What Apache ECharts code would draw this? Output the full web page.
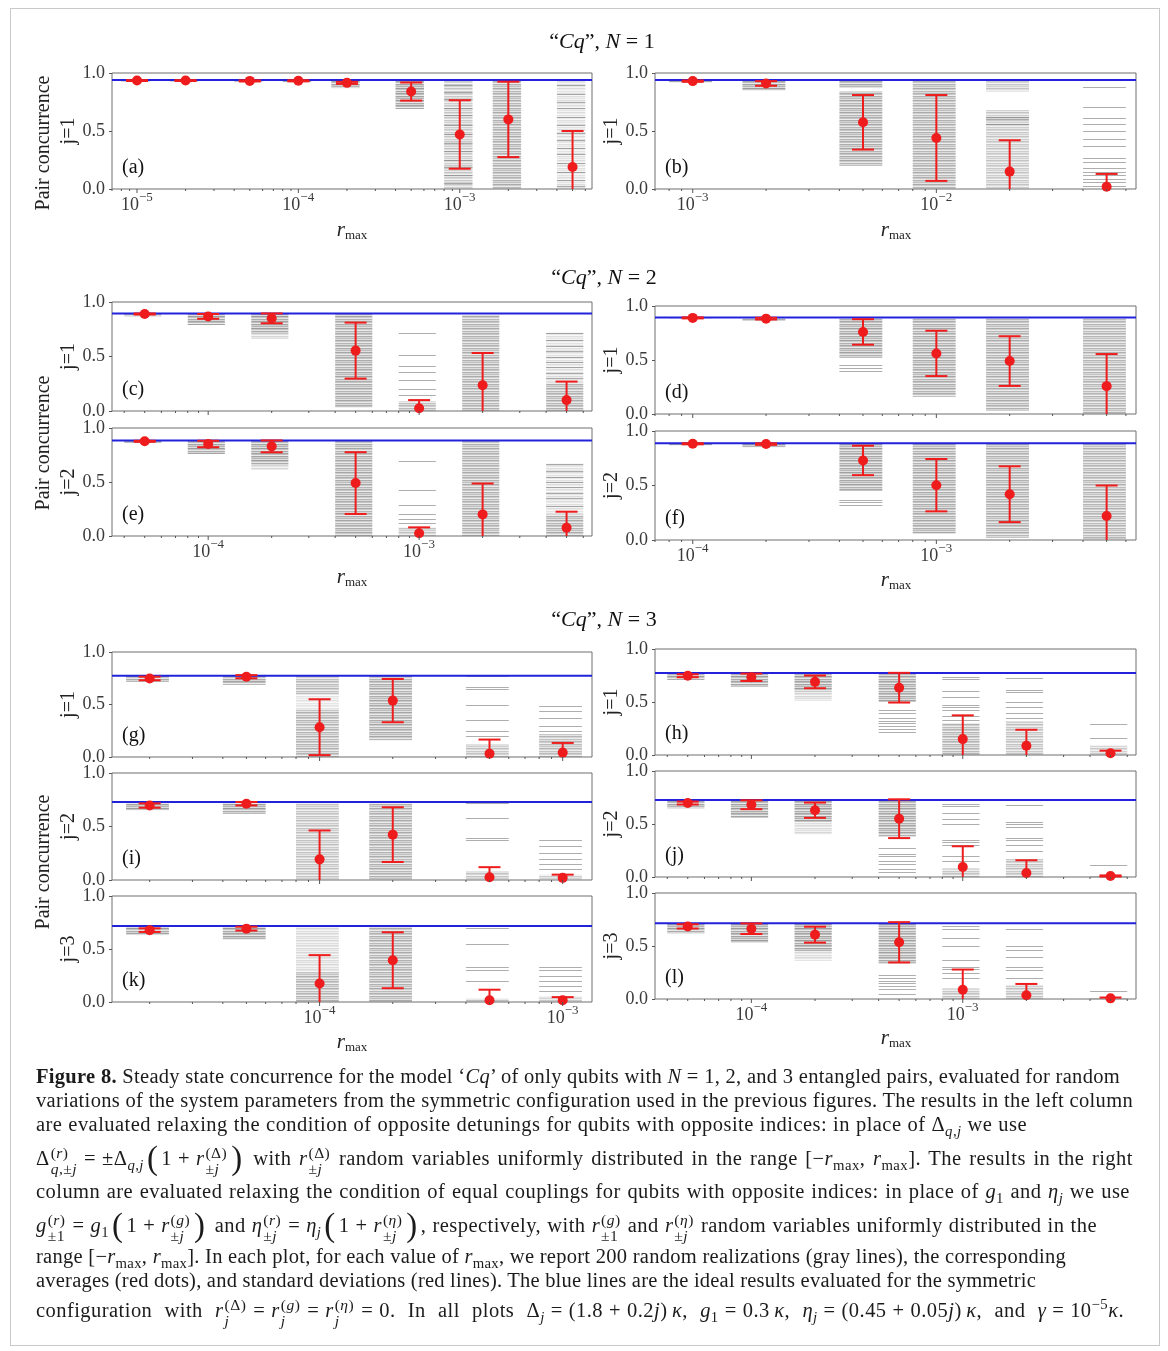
<!DOCTYPE html>
<html>
<head>
<meta charset="utf-8">
<script src="https://cdn.jsdelivr.net/npm/echarts@6/dist/echarts.min.js"></script>
<style>
html,body{margin:0;padding:0;background:#fff;}
#chart{position:absolute;left:0;top:0;width:1168px;height:1351px;}
#frame{position:absolute;left:10px;top:8px;width:1150px;height:1338px;border:1px solid #c9c9c9;box-sizing:border-box;pointer-events:none;}
#cap{position:absolute;left:36px;top:0;width:1110px;font-family:"Liberation Serif","DejaVu Serif",serif;font-size:20.5px;color:#1b1b1b;}
#cap .ln{position:absolute;left:0;white-space:nowrap;line-height:24px;}
#cap sub,#cap sup{font-size:0.72em;line-height:0;}
#cap .ss{display:inline-block;vertical-align:middle;font-size:0.76em;line-height:1.0;text-align:left;margin-left:1px;margin-right:1px;}
#cap .ss span{display:block;}
#cap .bp{display:inline-block;font-size:1.6em;line-height:0;vertical-align:-0.1em;margin:0 3px;}
#cap .op{display:inline-block;margin:0 6px;}
</style>
</head>
<body>
<div id="chart"></div>
<div id="frame"></div>
<div id="cap">
<div class="ln" data-w="1084" style="top:1064px"><b>Figure 8.</b> Steady state concurrence for the model ‘<i>Cq</i>’ of only qubits with <i>N</i> = 1, 2, and 3 entangled pairs, evaluated for random</div>
<div class="ln" data-w="1097" style="top:1088px">variations of the system parameters from the symmetric configuration used in the previous figures. The results in the left column</div>
<div class="ln" data-w="991" style="top:1112px">are evaluated relaxing the condition of opposite detunings for qubits with opposite indices: in place of Δ<sub><i>q</i>,<i>j</i></sub> we use</div>
<div class="ln" data-w="1097" style="top:1145px">Δ<span class="ss"><span>(<i>r</i>)</span><span><i>q</i>,±<i>j</i></span></span><span class="op">=</span>±Δ<sub><i>q</i>,<i>j</i></sub><span class="bp">(</span>1<span class="op">+</span><i>r</i><span class="ss"><span>(Δ)</span><span>±<i>j</i></span></span><span class="bp">)</span> with <i>r</i><span class="ss"><span>(Δ)</span><span>±<i>j</i></span></span> random variables uniformly distributed in the range [−<i>r</i><sub>max</sub>, <i>r</i><sub>max</sub>]. The results in the right</div>
<div class="ln" data-w="1094" style="top:1179px">column are evaluated relaxing the condition of equal couplings for qubits with opposite indices: in place of <i>g</i><sub>1</sub> and <i>η<sub>j</sub></i> we use</div>
<div class="ln" data-w="1061" style="top:1212px"><i>g</i><span class="ss"><span>(<i>r</i>)</span><span>±1</span></span><span class="op">=</span><i>g</i><sub>1</sub><span class="bp">(</span>1<span class="op">+</span><i>r</i><span class="ss"><span>(<i>g</i>)</span><span>±<i>j</i></span></span><span class="bp">)</span> and <i>η</i><span class="ss"><span>(<i>r</i>)</span><span>±<i>j</i></span></span><span class="op">=</span><i>η<sub>j</sub></i><span class="bp">(</span>1<span class="op">+</span><i>r</i><span class="ss"><span>(<i>η</i>)</span><span>±<i>j</i></span></span><span class="bp">)</span>, respectively, with <i>r</i><span class="ss"><span>(<i>g</i>)</span><span>±1</span></span> and <i>r</i><span class="ss"><span>(<i>η</i>)</span><span>±<i>j</i></span></span> random variables uniformly distributed in the</div>
<div class="ln" data-w="1030" style="top:1244px">range [−<i>r</i><sub>max</sub>, <i>r</i><sub>max</sub>]. In each plot, for each value of <i>r</i><sub>max</sub>, we report 200 random realizations (gray lines), the corresponding</div>
<div class="ln" data-w="1000" style="top:1268px">averages (red dots), and standard deviations (red lines). The blue lines are the ideal results evaluated for the symmetric</div>
<div class="ln" data-w="1088" style="top:1297px">configuration with <i>r</i><span class="ss"><span>(Δ)</span><span><i>j</i></span></span><span class="op">=</span><i>r</i><span class="ss"><span>(<i>g</i>)</span><span><i>j</i></span></span><span class="op">=</span><i>r</i><span class="ss"><span>(<i>η</i>)</span><span><i>j</i></span></span><span class="op">=</span>0. In all plots Δ<sub><i>j</i></sub><span class="op">=</span>(1.8<span class="op">+</span>0.2<i>j</i>)&#8201;<i>κ</i>, <i>g</i><sub>1</sub><span class="op">=</span>0.3&#8201;<i>κ</i>, <i>η<sub>j</sub></i><span class="op">=</span>(0.45<span class="op">+</span>0.05<i>j</i>)&#8201;<i>κ</i>, and <i>γ</i><span class="op">=</span>10<sup>−5</sup><i>κ</i>.</div>
</div>
<script>
// ---------------- DATA ----------------
// Bands: [low, high, density] ranges covered by the gray realization lines; lines: individual visible gray lines
// (a) N=1, left
const rA = [1e-5, 2e-5, 5e-5, 1e-4, 2e-4, 5e-4, 1e-3, 2e-3, 5e-3];
const meanA = [0.935, 0.935, 0.932, 0.933, 0.915, 0.84, 0.47, 0.60, 0.19];
const stdA = [0.004, 0.004, 0.005, 0.005, 0.009, 0.078, 0.295, 0.325, 0.31];
const idealA = 0.94;
const bandsA = [[[0.928,0.94,1]],[[0.928,0.94,1]],[[0.925,0.94,1]],[[0.922,0.94,1]],[[0.87,0.94,1]],[[0.69,0.94,1]],[[0,0.94,0.6]],[[0,0.94,0.85]],[[0,0.94,0.35]]];
const linesA = [[],[],[],[],[],[],[0.9,0.84,0.78,0.7,0.64,0.55,0.47,0.4,0.33,0.25,0.19,0.12,0.05],[],[0.9,0.82,0.75,0.7,0.62,0.55,0.48,0.42,0.35,0.3,0.22,0.15,0.08,0.03]];
// (b) N=1, right
const rB = [1e-3, 2e-3, 5e-3, 1e-2, 2e-2, 5e-2];
const meanB = [0.93, 0.91, 0.575, 0.44, 0.15, 0.02];
const stdB = [0.006, 0.02, 0.235, 0.37, 0.27, 0.11];
const idealB = 0.94;
const bandsB = [[[0.92,0.94,1]],[[0.85,0.94,1]],[[0.2,0.84,0.9],[0.87,0.94,0.95]],[[0,0.94,0.85]],[[0.84,0.94,0.6],[0,0.68,0.6]],[]];
const linesB = [[],[],[],[],[0.62,0.6,0.56],[0.88,0.71,0.61,0.56,0.5,0.43,0.37,0.27,0.23,0.18,0.15,0.12,0.09,0.06,0.03]];
// (c) N=2, j=1, left
const rC = [5e-5, 1e-4, 2e-4, 5e-4, 1e-3, 2e-3, 5e-3];
const meanC = [0.89, 0.868, 0.85, 0.554, 0.025, 0.237, 0.10];
const stdC = [0.005, 0.022, 0.045, 0.257, 0.075, 0.295, 0.17];
const idealC = 0.895;
const bandsC = [[[0.87,0.895,1]],[[0.79,0.895,1]],[[0.71,0.895,1],[0.66,0.71,0.45]],[[0.03,0.895,0.9]],[[0,0.09,0.75]],[[0,0.88,0.85]],[[0,0.26,0.85],[0.26,0.72,0.35]]];
const linesC = [[],[],[],[],[0.72,0.51,0.41,0.36,0.28,0.2,0.15],[],[0.72,0.65,0.6,0.55,0.5,0.45,0.4,0.35,0.3]];
// (e) N=2, j=2, left
const meanE = [0.877, 0.852, 0.83, 0.49, 0.025, 0.20, 0.077];
const stdE = [0.005, 0.03, 0.055, 0.286, 0.055, 0.286, 0.148];
const idealE = 0.885;
const bandsE = [[[0.86,0.885,1]],[[0.76,0.885,1]],[[0.66,0.885,1],[0.61,0.66,0.45]],[[0,0.885,0.9]],[[0,0.08,0.65]],[[0,0.88,0.85]],[[0,0.2,0.85],[0.2,0.67,0.35]]];
const linesE = [[],[],[],[],[0.69,0.43,0.29,0.2,0.16,0.12],[],[0.67,0.6,0.55,0.5,0.45,0.4,0.35,0.28]];
// (d) N=2, j=1, right
const rD = [1e-4, 2e-4, 5e-4, 1e-3, 2e-3, 5e-3];
const meanD = [0.89, 0.883, 0.76, 0.561, 0.49, 0.258];
const stdD = [0.005, 0.008, 0.118, 0.21, 0.23, 0.297];
const idealD = 0.893;
const bandsD = [[[0.88,0.893,1]],[[0.86,0.893,1]],[[0.52,0.893,0.95]],[[0.16,0.893,0.9]],[[0.03,0.893,0.85]],[[0,0.893,0.8]]];
const linesD = [[],[],[0.45,0.43,0.40],[],[],[]];
// (f) N=2, j=2, right
const meanF = [0.883, 0.88, 0.73, 0.503, 0.42, 0.22];
const stdF = [0.005, 0.007, 0.135, 0.24, 0.256, 0.28];
const idealF = 0.887;
const bandsF = [[[0.87,0.887,1]],[[0.85,0.887,1]],[[0.45,0.887,0.95]],[[0.06,0.887,0.9]],[[0.02,0.887,0.85]],[[0,0.887,0.8]]];
const linesF = [[],[],[0.37,0.35,0.32],[],[],[]];
// (g) N=3, j=1, left
const rG = [2e-5, 5e-5, 1e-4, 2e-4, 5e-4, 1e-3];
const meanG = [0.748, 0.765, 0.284, 0.537, 0.032, 0.042];
const stdG = [0.017, 0.015, 0.266, 0.206, 0.134, 0.092];
const idealG = 0.775;
const bandsG = [[[0.716,0.775,1]],[[0.687,0.775,1]],[[0.6,0.775,0.75],[0.45,0.6,0.3],[0,0.45,0.8]],[[0.16,0.775,0.9]],[[0,0.12,0.65]],[[0,0.22,0.75]]];
const linesG = [[],[],[],[],[0.77,0.67,0.65,0.5,0.35,0.25,0.2],[0.49,0.44,0.37,0.3,0.25]];
// (i) N=3, j=2, left
const meanI = [0.696, 0.713, 0.193, 0.424, 0.025, 0.02];
const stdI = [0.02, 0.016, 0.27, 0.256, 0.095, 0.03];
const idealI = 0.728;
const bandsI = [[[0.652,0.728,1]],[[0.62,0.728,1]],[[0,0.728,0.65]],[[0,0.728,0.85]],[[0,0.08,0.65]],[[0,0.05,0.55]]];
const linesI = [[],[],[],[],[0.72,0.58,0.39,0.37],[0.37,0.32,0.25,0.2,0.15,0.1]];
// (k) N=3, j=3, left
const meanK = [0.678, 0.692, 0.174, 0.394, 0.016, 0.016];
const stdK = [0.017, 0.018, 0.268, 0.264, 0.1, 0.03];
const idealK = 0.716;
const bandsK = [[[0.637,0.716,1]],[[0.59,0.716,1]],[[0.28,0.716,0.4],[0,0.28,0.8]],[[0,0.716,0.85]],[[0,0.03,0.65]],[[0,0.05,0.55]]];
const linesK = [[],[],[],[],[0.7,0.55,0.33,0.3,0.2],[0.33,0.3,0.25,0.2,0.15,0.1]];
// (h) N=3, j=1, right
const rH = [5e-5, 1e-4, 2e-4, 5e-4, 1e-3, 2e-3, 5e-3];
const meanH = [0.748, 0.733, 0.69, 0.635, 0.15, 0.088, 0.016];
const stdH = [0.014, 0.035, 0.06, 0.14, 0.224, 0.15, 0.025];
const idealH = 0.774;
const bandsH = [[[0.708,0.774,1]],[[0.645,0.774,1]],[[0.6,0.774,1],[0.513,0.6,0.45]],[[0.5,0.774,0.95]],[[0,0.3,0.8]],[[0,0.32,0.65]],[[0,0.09,0.55]]];
const linesH = [[],[],[],[0.42,0.4,0.35,0.32,0.3,0.27,0.25,0.22],[0.74,0.72,0.6,0.55,0.47,0.45,0.42,0.37,0.33],[0.73,0.61,0.59,0.5,0.45,0.4,0.35],[0.29,0.16]];
// (j) N=3, j=2, right
const meanJ = [0.698, 0.682, 0.63, 0.55, 0.094, 0.038, 0.01];
const stdJ = [0.014, 0.042, 0.072, 0.183, 0.196, 0.12, 0.005];
const idealJ = 0.726;
const bandsJ = [[[0.648,0.726,1]],[[0.557,0.726,1]],[[0.52,0.726,1],[0.4,0.52,0.4]],[[0.38,0.726,0.95]],[[0,0.08,0.65]],[[0,0.17,0.65]],[[0,0.01,0.6]]];
const linesJ = [[],[],[],[0.27,0.22,0.2,0.15,0.12,0.08,0.05],[0.69,0.67,0.6,0.55,0.5,0.35,0.33,0.3,0.2,0.15],[0.68,0.52,0.5,0.47,0.37,0.35,0.3,0.25],[0.11]];
// (l) N=3, j=3, right
const meanL = [0.685, 0.663, 0.607, 0.535, 0.088, 0.035, 0.006];
const stdL = [0.02, 0.05, 0.075, 0.19, 0.19, 0.107, 0.008];
const idealL = 0.714;
const bandsL = [[[0.62,0.714,1]],[[0.528,0.714,1]],[[0.45,0.714,1],[0.36,0.45,0.4]],[[0.33,0.714,0.95]],[[0,0.1,0.65]],[[0,0.13,0.65]],[[0,0.01,0.6]]];
const linesL = [[],[],[],[0.23,0.2,0.17,0.15,0.12,0.09,0.05],[0.69,0.66,0.58,0.5,0.37,0.3,0.28,0.25,0.2],[0.66,0.5,0.46,0.4,0.3,0.27,0.2],[0.08]];

// Axis ticks
const yTicks = [0, 0.5, 1.0];
const decades = [1e-6, 1e-5, 1e-4, 1e-3, 1e-2, 1e-1];
const minorMult = [2, 3, 4, 5, 6, 7, 8, 9];

// ---------------- LAYOUT ----------------
const FONT = '"Liberation Serif", "DejaVu Serif", serif';
const LX = 112, LW = 480, RX = 655, RW = 481;
const panels = [
  {tag:'(a)', left:LX, width:LW, top:73,  height:116, r:rA, mean:meanA, std:stdA, ideal:idealA, bands:bandsA, lines:linesA, j:'j=1', showX:true},
  {tag:'(b)', left:RX, width:RW, top:73,  height:116, r:rB, mean:meanB, std:stdB, ideal:idealB, bands:bandsB, lines:linesB, j:'j=1', showX:true},
  {tag:'(c)', left:LX, width:LW, top:302, height:109, r:rC, mean:meanC, std:stdC, ideal:idealC, bands:bandsC, lines:linesC, j:'j=1', showX:false},
  {tag:'(e)', left:LX, width:LW, top:428, height:108, r:rC, mean:meanE, std:stdE, ideal:idealE, bands:bandsE, lines:linesE, j:'j=2', showX:true},
  {tag:'(d)', left:RX, width:RW, top:306, height:108, r:rD, mean:meanD, std:stdD, ideal:idealD, bands:bandsD, lines:linesD, j:'j=1', showX:false},
  {tag:'(f)', left:RX, width:RW, top:431, height:109, r:rD, mean:meanF, std:stdF, ideal:idealF, bands:bandsF, lines:linesF, j:'j=2', showX:true},
  {tag:'(g)', left:LX, width:LW, top:652, height:105, r:rG, mean:meanG, std:stdG, ideal:idealG, bands:bandsG, lines:linesG, j:'j=1', showX:false},
  {tag:'(i)', left:LX, width:LW, top:773, height:107, r:rG, mean:meanI, std:stdI, ideal:idealI, bands:bandsI, lines:linesI, j:'j=2', showX:false},
  {tag:'(k)', left:LX, width:LW, top:896, height:106, r:rG, mean:meanK, std:stdK, ideal:idealK, bands:bandsK, lines:linesK, j:'j=3', showX:true},
  {tag:'(h)', left:RX, width:RW, top:649, height:106, r:rH, mean:meanH, std:stdH, ideal:idealH, bands:bandsH, lines:linesH, j:'j=1', showX:false},
  {tag:'(j)', left:RX, width:RW, top:771, height:106, r:rH, mean:meanJ, std:stdJ, ideal:idealJ, bands:bandsJ, lines:linesJ, j:'j=2', showX:false},
  {tag:'(l)', left:RX, width:RW, top:893, height:106, r:rH, mean:meanL, std:stdL, ideal:idealL, bands:bandsL, lines:linesL, j:'j=3', showX:true}
];

// striped fill texture for dense groups of gray lines
const patternCache = {};
const stripeRows = [0.55, 0.3, 0.45, 0.2, 0.6, 0.35, 0.15, 0.5, 0.25, 0.55, 0.4, 0.12];
function stripeFill(d) {
  const key = d.toFixed(2);
  if (patternCache[key]) return patternCache[key];
  const c = document.createElement('canvas');
  c.width = 4; c.height = stripeRows.length;
  const g = c.getContext('2d');
  stripeRows.forEach((a, y) => {
    g.fillStyle = 'rgba(128,128,128,' + Math.min(1, a * d * 1.3).toFixed(3) + ')';
    g.fillRect(0, y, 4, 1);
  });
  patternCache[key] = {type:'pattern', image:c, repeat:'repeat'};
  return patternCache[key];
}

const grids = [], xAxes = [], yAxes = [], series = [];
const graphics = [];
const RED = '#ee1c1c', BLUE = '#2222dd';

panels.forEach((P, i) => {
  const xmin = P.r[0] * 0.7, xmax = P.r[P.r.length - 1] * 1.32;
  grids.push({left:P.left, top:P.top, width:P.width, height:P.height, show:true, borderColor:'#6f6f6f', borderWidth:1, backgroundColor:'rgba(0,0,0,0)'});
  xAxes.push({type:'log', logBase:10, gridIndex:i, min:xmin, max:xmax,
    axisLine:{show:false}, axisTick:{show:false}, axisLabel:{show:false}, splitLine:{show:false}});
  yAxes.push({type:'value', gridIndex:i, min:0, max:1, interval:0.5,
    name:P.j, nameLocation:'middle', nameRotate:90, nameGap:P.left === LX ? 31 : 25,
    nameTextStyle:{fontFamily:FONT, fontSize:20, color:'#222'},
    axisLine:{show:false}, axisTick:{show:true, length:3, lineStyle:{color:'#555'}},
    axisLabel:{fontFamily:FONT, fontSize:18, color:'#3a3a3a', margin:7, formatter:v => v.toFixed(1)},
    splitLine:{show:false}});

  // gray realization lines
  series.push({type:'custom', xAxisIndex:i, yAxisIndex:i, z:2, silent:true,
    data:P.r.map((x, k) => [x, P.mean[k]]),
    renderItem:(params, api) => {
      const k = params.dataIndex, x = api.value(0);
      const xl = api.coord([x * 0.8, 0])[0], xr = api.coord([x * 1.2, 0])[0];
      const ch = [];
      P.bands[k].forEach(b => {
        const y1 = api.coord([x, b[1]])[1], y0 = api.coord([x, b[0]])[1];
        ch.push({type:'rect', shape:{x:xl, y:y1, width:xr - xl, height:Math.max(1.5, y0 - y1)},
          style:{fill:stripeFill(b[2])}});
      });
      P.lines[k].forEach(v => {
        const y = Math.round(api.coord([x, v])[1]) + 0.5;
        ch.push({type:'line', shape:{x1:xl, y1:y, x2:xr, y2:y}, style:{stroke:'rgba(120,120,120,0.6)', lineWidth:1}});
      });
      return {type:'group', children:ch};
    }});

  // ideal blue line
  series.push({type:'custom', xAxisIndex:i, yAxisIndex:i, z:3, silent:true,
    data:[[P.r[0], P.ideal]],
    renderItem:(params, api) => {
      const cs = params.coordSys;
      const y = api.coord([api.value(0), api.value(1)])[1];
      return {type:'line', shape:{x1:cs.x, y1:y, x2:cs.x + cs.width, y2:y}, style:{stroke:BLUE, lineWidth:2}};
    }});

  // red mean + std error bars
  series.push({type:'custom', xAxisIndex:i, yAxisIndex:i, z:4, silent:true,
    data:P.r.map((x, k) => [x, P.mean[k], P.std[k]]),
    encode:{x:0, y:1},
    renderItem:(params, api) => {
      const x = api.value(0), m = api.value(1), s = api.value(2);
      const lo = m - s, hi = m + s;
      const px = api.coord([x, m])[0];
      const yM = api.coord([x, m])[1];
      const yLo = api.coord([x, Math.max(0, lo)])[1];
      const yHi = api.coord([x, Math.min(1, hi)])[1];
      const ch = [{type:'line', shape:{x1:px, y1:yLo, x2:px, y2:yHi}, style:{stroke:RED, lineWidth:2}}];
      if (lo >= 0) ch.push({type:'line', shape:{x1:px - 11, y1:yLo, x2:px + 11, y2:yLo}, style:{stroke:RED, lineWidth:2}});
      if (hi <= 1) ch.push({type:'line', shape:{x1:px - 11, y1:yHi, x2:px + 11, y2:yHi}, style:{stroke:RED, lineWidth:2}});
      ch.push({type:'circle', shape:{cx:px, cy:yM, r:5}, style:{fill:RED}});
      return {type:'group', children:ch};
    }});

  // x ticks (log decades + minor) and labels
  const tickData = [];
  decades.forEach(d => {
    if (d >= xmin && d <= xmax) tickData.push([d, 0, 1]);
    minorMult.forEach(m => { const v = d * m; if (v >= xmin && v <= xmax) tickData.push([v, 0, 0]); });
  });
  series.push({type:'custom', xAxisIndex:i, yAxisIndex:i, z:5, silent:true,
    data:tickData, encode:{x:0, y:1},
    renderItem:(params, api) => {
      const cs = params.coordSys;
      const v = api.value(0), major = api.value(2) === 1;
      const px = api.coord([v, 0])[0];
      const yb = cs.y + cs.height;
      const ch = [{type:'line', shape:{x1:px, y1:yb, x2:px, y2:yb + (major ? 4 : 2)}, style:{stroke:'#555', lineWidth:1}}];
      if (major && P.showX) {
        const e = Math.round(Math.log10(v));
        ch.push({type:'text', x:px + 2, y:yb + 16, style:{text:'10', fontFamily:FONT, fontSize:18, fill:'#3a3a3a', align:'right', verticalAlign:'middle'}});
        ch.push({type:'text', x:px + 2, y:yb + 9, style:{text:'\u2212' + Math.abs(e), fontFamily:FONT, fontSize:13, fill:'#3a3a3a', align:'left', verticalAlign:'middle'}});
      }
      return {type:'group', children:ch};
    }});

  // panel tag
  graphics.push({type:'text', x:P.left + 10, y:P.top + P.height - 21,
    style:{text:P.tag, fontFamily:FONT, fontSize:20, fill:'#111', align:'left', verticalAlign:'middle'}});
});

// row titles
[[602, 42], [604, 278], [604, 620]].forEach((p, n) => {
  graphics.push({type:'text', x:p[0], y:p[1],
    style:{text:'\u201c{i|Cq}\u201d, {i|N} = ' + (n + 1), fontFamily:FONT, fontSize:22, fill:'#111', align:'center', verticalAlign:'middle',
      rich:{i:{fontStyle:'italic', fontFamily:FONT, fontSize:22, fill:'#111'}}}});
});
// Pair concurrence labels
[143, 443, 862].forEach(y => {
  graphics.push({type:'text', x:44, y:y, rotation:Math.PI / 2,
    style:{text:'Pair concurrence', fontFamily:FONT, fontSize:20, fill:'#222', align:'center', verticalAlign:'middle'}});
});
// r_max labels
[[352, 230], [896, 230], [352, 577], [896, 580], [352, 1042], [896, 1038]].forEach(p => {
  graphics.push({type:'text', x:p[0], y:p[1],
    style:{text:'{r|r}{m|max}', align:'center', verticalAlign:'middle',
      rich:{r:{fontStyle:'italic', fontFamily:FONT, fontSize:21, lineHeight:24, fill:'#222'},
            m:{fontFamily:FONT, fontSize:13, lineHeight:12, verticalAlign:'bottom', fill:'#222'}}}});
});

const chart = echarts.init(document.getElementById('chart'), null, {renderer:'canvas'});
chart.setOption({
  animation:false,
  backgroundColor:'#fff',
  grid:grids, xAxis:xAxes, yAxis:yAxes, series:series,
  graphic:graphics
});

// fit caption lines to the widths of the original typeset lines
document.querySelectorAll('#cap .ln').forEach(el => {
  const target = +el.dataset.w;
  const w = el.getBoundingClientRect().width;
  const chars = el.textContent.replace(/\s+/g, ' ').trim().length;
  const spaces = (el.textContent.match(/ /g) || []).length;
  let extra = target - w;
  const ls = Math.max(-0.3, Math.min(0.45, extra / chars));
  el.style.letterSpacing = ls.toFixed(3) + 'px';
  const w2 = el.getBoundingClientRect().width;
  extra = target - w2;
  if (spaces > 0) el.style.wordSpacing = (extra / spaces).toFixed(2) + 'px';
});
</script>
</body>
</html>
